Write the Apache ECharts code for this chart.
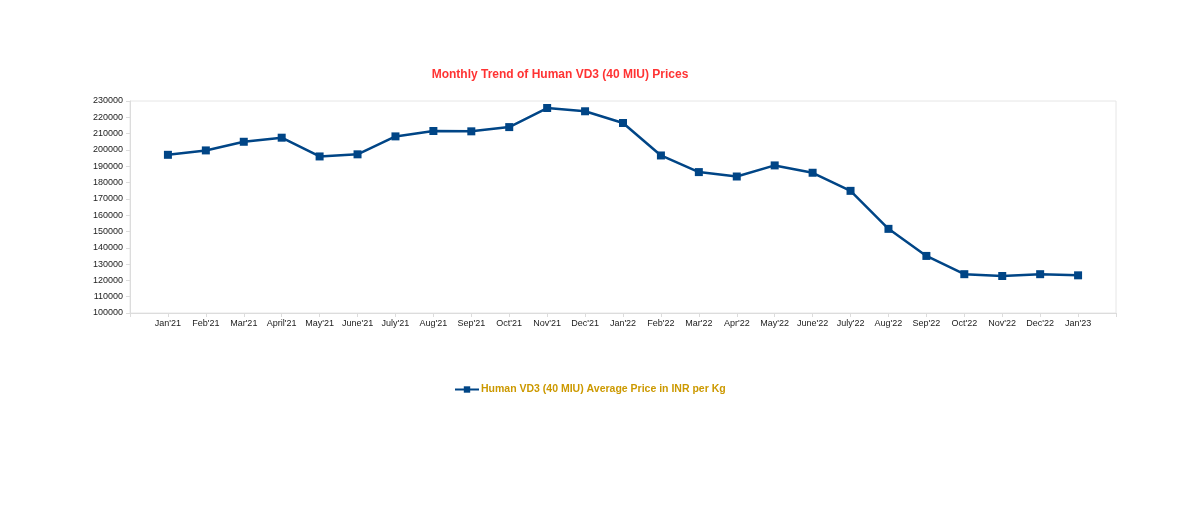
<!DOCTYPE html>
<html>
<head>
<meta charset="utf-8">
<script src="https://cdn.jsdelivr.net/npm/echarts@6/dist/echarts.min.js"></script>
<style>
  html, body { margin: 0; padding: 0; background: #fff; }
  #chart { width: 1200px; height: 507px; }
</style>
</head>
<body>
<div id="chart"></div>
<script>
// monthly labels and prices
const months = ["Jan'21", "Feb'21", "Mar'21", "April'21", "May'21", "June'21", "July'21", "Aug'21", "Sep'21", "Oct'21",
  "Nov'21", "Dec'21", "Jan'22", "Feb'22", "Mar'22", "Apr'22", "May'22", "June'22", "July'22", "Aug'22",
  "Sep'22", "Oct'22", "Nov'22", "Dec'22", "Jan'23"];
const prices = [197000, 199700, 205000, 207500, 196000, 197300, 208300, 211600, 211400, 214000,
  225700, 223700, 216500, 196600, 186400, 183700, 190500, 186000, 174900, 151600,
  135000, 123800, 122700, 123800, 123100];
const yMin = 100000;
const yMax = 230000;
const yStep = 10000;
const seriesName = 'Human VD3 (40 MIU) Average Price in INR per Kg';

const chart = echarts.init(document.getElementById('chart'));

const option = {
  animation: false,
  title: {
    text: 'Monthly Trend of Human VD3 (40 MIU) Prices',
    left: 555,
    textAlign: 'center',
    top: 64,
    textStyle: {
      fontFamily: 'Liberation Sans',
      fontSize: 12,
      fontWeight: 'bold',
      color: '#ff3333'
    }
  },
  legend: {
    data: [seriesName],
    left: 449,
    top: 379,
    itemWidth: 24,
    itemHeight: 8,
    itemGap: 2,
    textStyle: {
      fontFamily: 'Liberation Sans',
      fontSize: 10.5,
      fontWeight: 'bold',
      color: '#cc9900',
      padding: [0, 0, 0, -3]
    }
  },
  grid: {
    left: 130,
    right: 84,
    top: 101,
    bottom: 194,
    show: true,
    borderColor: '#e6e6e6',
    borderWidth: 1
  },
  xAxis: {
    type: 'value',
    min: -1,
    max: months.length,
    interval: 1,
    splitLine: { show: false },
    axisLine: { lineStyle: { color: '#dcdcdc' } },
    axisTick: { show: true, length: 4, lineStyle: { color: '#dcdcdc' } },
    axisLabel: {
      fontFamily: 'Liberation Sans',
      fontSize: 9,
      color: '#222',
      margin: 6,
      formatter: (v) => months[v] || ''
    }
  },
  yAxis: {
    type: 'value',
    min: yMin,
    max: yMax,
    interval: yStep,
    splitLine: { show: false },
    axisLine: { show: true, onZero: false, lineStyle: { color: '#dcdcdc' } },
    axisTick: { show: true, length: 4, lineStyle: { color: '#dcdcdc' } },
    axisLabel: {
      fontFamily: 'Liberation Sans',
      fontSize: 9,
      color: '#222',
      margin: 7,
      formatter: (v) => String(v)
    }
  },
  series: [
    {
      name: seriesName,
      type: 'line',
      data: prices.map((p, i) => [i, p]),
      symbol: 'rect',
      symbolSize: 8,
      lineStyle: { color: '#004586', width: 2.5 },
      itemStyle: { color: '#004586' }
    }
  ]
};

chart.setOption(option);
</script>
</body>
</html>
